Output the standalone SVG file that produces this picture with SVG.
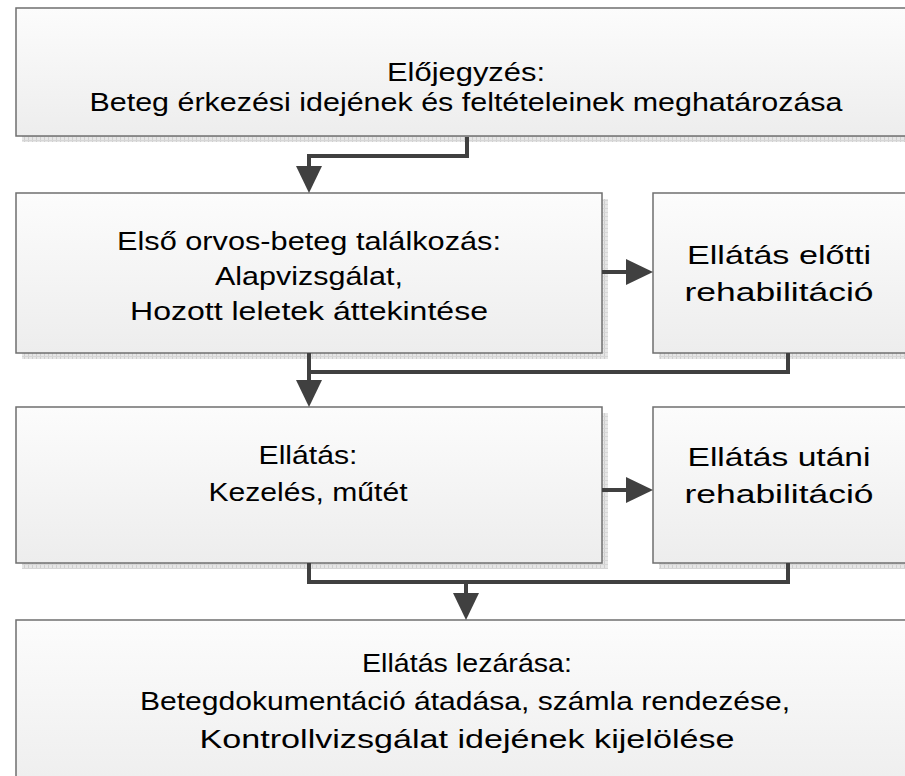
<svg xmlns="http://www.w3.org/2000/svg" width="905" height="776" viewBox="0 0 905 776">
<style>
.box{fill:url(#g);stroke:#6f6f6f;stroke-width:1.5}
.sh{fill:url(#hp)}
.t{font-family:"Liberation Sans",Arial,sans-serif;font-size:26px;fill:#000;text-anchor:middle}
.c{fill:none;stroke:#404040;stroke-width:4;stroke-linejoin:miter;stroke-linecap:butt}
</style>
<defs>
<linearGradient id="g" x1="0" y1="0" x2="0" y2="1">
<stop offset="0" stop-color="#fcfcfc"/>
<stop offset="1" stop-color="#ededed"/>
</linearGradient>
<pattern id="hp" width="4" height="4" patternUnits="userSpaceOnUse">
<rect width="4" height="4" fill="#e6e6e6"/>
<rect width="1" height="4" fill="#cfcfcf"/>
<rect width="4" height="1" fill="#d6d6d6"/>
</pattern>
<marker id="ah" viewBox="0 0 27 26" refX="0" refY="13" markerWidth="27" markerHeight="26" markerUnits="userSpaceOnUse" orient="auto">
<path d="M0,0 L27,13 L0,26 Z" fill="#404040"/>
</marker>
</defs>

<g id="n1">
<rect class="sh" x="22" y="136" width="900" height="6"/>
<rect class="box" x="16" y="8" width="900" height="128"/>
<text class="t" x="466" y="81" textLength="158" lengthAdjust="spacingAndGlyphs">Előjegyzés:</text>
<text class="t" x="466" y="111" textLength="753" lengthAdjust="spacingAndGlyphs">Beteg érkezési idejének és feltételeinek meghatározása</text>
</g>

<g id="n2">
<rect class="sh" x="22" y="199" width="586" height="160"/>
<rect class="box" x="16" y="193" width="586" height="160"/>
<text class="t" x="309" y="250" textLength="384" lengthAdjust="spacingAndGlyphs">Első orvos-beteg találkozás:</text>
<text class="t" x="309" y="285" textLength="188" lengthAdjust="spacingAndGlyphs">Alapvizsgálat,</text>
<text class="t" x="309" y="320" textLength="358" lengthAdjust="spacingAndGlyphs">Hozott leletek áttekintése</text>
</g>

<g id="n3">
<rect class="sh" x="659" y="199" width="260" height="160"/>
<rect class="box" x="653" y="193" width="260" height="160"/>
<text class="t" x="779" y="264" textLength="184" lengthAdjust="spacingAndGlyphs">Ellátás előtti</text>
<text class="t" x="779" y="301" textLength="189" lengthAdjust="spacingAndGlyphs">rehabilitáció</text>
</g>

<g id="n4">
<rect class="sh" x="22" y="413" width="586" height="156"/>
<rect class="box" x="16" y="407" width="586" height="156"/>
<text class="t" x="308" y="464" textLength="99" lengthAdjust="spacingAndGlyphs">Ellátás:</text>
<text class="t" x="308" y="501" textLength="199" lengthAdjust="spacingAndGlyphs">Kezelés, műtét</text>
</g>

<g id="n5">
<rect class="sh" x="659" y="413" width="260" height="156"/>
<rect class="box" x="653" y="407" width="260" height="156"/>
<text class="t" x="779" y="466" textLength="183" lengthAdjust="spacingAndGlyphs">Ellátás utáni</text>
<text class="t" x="779" y="503" textLength="189" lengthAdjust="spacingAndGlyphs">rehabilitáció</text>
</g>

<g id="n6">
<rect class="box" x="16" y="620" width="900" height="180"/>
<text class="t" x="467" y="672" textLength="210" lengthAdjust="spacingAndGlyphs">Ellátás lezárása:</text>
<text class="t" x="465" y="710" textLength="650" lengthAdjust="spacingAndGlyphs">Betegdokumentáció átadása, számla rendezése,</text>
<text class="t" x="467" y="748" textLength="535" lengthAdjust="spacingAndGlyphs">Kontrollvizsgálat idejének kijelölése</text>
</g>

<g id="connectors">
<path class="c" d="M467,137 V156 H309 V166" marker-end="url(#ah)"/>
<path class="c" d="M788,353 V372 H309"/>
<path class="c" d="M309,353 V380" marker-end="url(#ah)"/>
<path class="c" d="M602,272 H626" marker-end="url(#ah)"/>
<path class="c" d="M602,490 H626" marker-end="url(#ah)"/>
<path class="c" d="M309,563 V582 H788 V563"/>
<path class="c" d="M466,582 V593" marker-end="url(#ah)"/>
</g>
</svg>
